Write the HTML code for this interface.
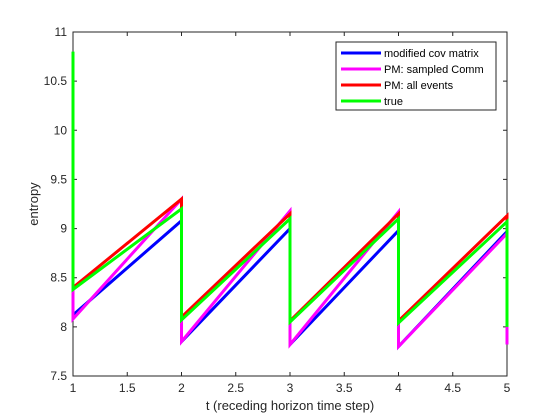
<!DOCTYPE html>
<html><head><meta charset="utf-8"><style>
body{margin:0;background:#fff;}
svg{display:block;font-family:"Liberation Sans",Arial,sans-serif;}
</style></head><body>
<svg id="chart" width="560" height="420" viewBox="0 0 560 420"></svg>
<script>
const xVals=[1,1,2,2,3,3,4,4,5,5];
const blueY=[8.12,8.12,9.08,7.85,9.0,7.82,8.98,7.8,8.97,7.82];
const magentaY=[8.4,8.08,9.3,7.85,9.18,7.82,9.17,7.8,8.95,8.02];
const magentaEndY=[8.02,7.82];
const redY=[8.4,8.4,9.3,8.1,9.15,8.06,9.15,8.06,9.13,8.06];
const greenY=[10.8,8.38,9.2,8.07,9.1,8.05,9.1,8.04,9.07,8.0];
const xTicks=[1,1.5,2,2.5,3,3.5,4,4.5,5];
const yTicks=[7.5,8,8.5,9,9.5,10,10.5,11];
const legendLabels=["modified cov matrix","PM: sampled Comm","PM: all events","true"];
const colors=["#0000ff","#ff00ff","#ff0000","#00ff00"];

const L=73,R=507,T=32,B=376;
const sx=v=>L+(v-1)/4*(R-L);
const sy=v=>B-(v-7.5)/3.5*(B-T);
const svg=document.getElementById('chart');
const NS='http://www.w3.org/2000/svg';
function mk(tag,attrs){const e=document.createElementNS(NS,tag);for(const k in attrs)e.setAttribute(k,attrs[k]);svg.appendChild(e);return e;}

const box=mk('rect',{x:L,y:T,width:R-L,height:B-T,fill:'#fff',stroke:'#262626','stroke-width':1});



xTicks.forEach(t=>{
  const x=sx(t);
  const tk=mk('path',{d:`M${x},${B}v-4M${x},${T}v4`,stroke:'#262626','stroke-width':1});
  
  
  const lb=mk('text',{x:x,y:B+16,'text-anchor':'middle','font-size':12,fill:'#262626'});
  lb.textContent=String(t);
  
  
});
yTicks.forEach(t=>{
  const y=sy(t);
  const tk=mk('path',{d:`M${L},${y}h4M${R},${y}h-4`,stroke:'#262626','stroke-width':1});
  
  
  const lb=mk('text',{x:L-6,y:y+4,'text-anchor':'end','font-size':12,fill:'#262626'});
  lb.textContent=String(t);
  
  
});

function series(ys,color,name,extraX,extraY){
  let pts=xVals.map((x,i)=>sx(x)+','+sy(ys[i]));
  if(extraY){extraY.forEach((v,i)=>pts.push(sx(extraX[i])+','+sy(v)));}
  const p=mk('polyline',{points:pts.join(' '),fill:'none',stroke:color,'stroke-width':3,'stroke-linejoin':'miter'});
  
  
}
series(blueY,colors[0],'series-modified-cov-matrix');
series(magentaY,colors[1],'series-pm-sampled-comm',[5,5],magentaEndY);
series(redY,colors[2],'series-pm-all-events');
series(greenY,colors[3],'series-true');

const xt=mk('text',{x:(L+R)/2,y:B+34,'text-anchor':'middle','font-size':13,fill:'#262626'});
xt.textContent='t (receding horizon time step)';


const yt=mk('text',{x:0,y:0,'text-anchor':'middle','font-size':13,fill:'#262626',transform:`translate(38,${(T+B)/2}) rotate(-90)`});
yt.textContent='entropy';



const lg=mk('rect',{x:336,y:42,width:160,height:68,fill:'#fff',stroke:'#262626','stroke-width':1});


legendLabels.forEach((s,i)=>{
  const y=53+i*16;
  const ln=mk('line',{x1:341,x2:381,y1:y,y2:y,stroke:colors[i],'stroke-width':3});
  
  
  const tx=mk('text',{x:384,y:y+4,'font-size':11,fill:'#000'});
  tx.textContent=s;
  
  
});
</script>
</body></html>
